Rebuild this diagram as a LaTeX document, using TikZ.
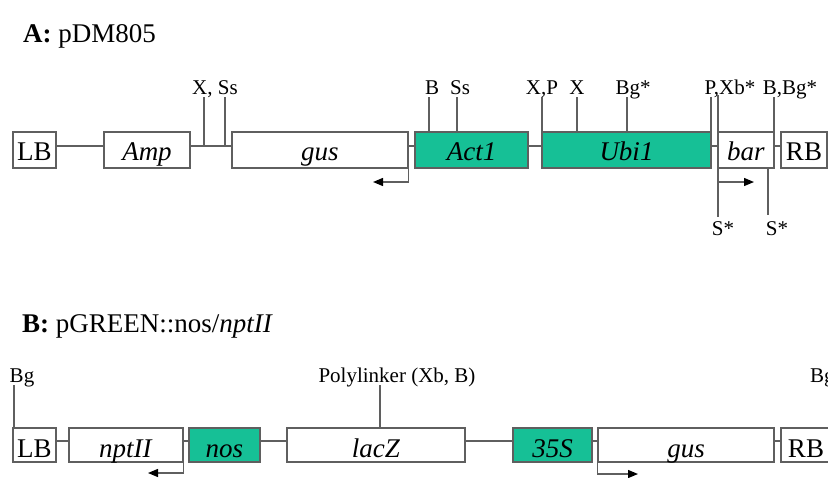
\documentclass[tikz,border=0pt]{standalone}
\usepackage{fontspec}
\setmainfont{Liberation Serif}
\usetikzlibrary{arrows.meta}
\definecolor{genegreen}{RGB}{22,192,150}
\definecolor{wire}{RGB}{95,95,95}
\newcommand\boxfont{\fontsize{27}{30}\selectfont}
\newcommand\sitefont{\fontsize{21}{24}\selectfont}
\newcommand\titlefont{\fontsize{27}{30}\selectfont}

\begin{document}
\begin{tikzpicture}[x=1pt,y=-1pt,
  part/.style={draw=wire, line width=1.3pt, inner sep=0pt, fill=white, font=\boxfont, text depth=0pt},
  rowa/.style={part, minimum height=36pt, text height=20pt},
  rowb/.style={part, minimum height=34pt, text height=25pt},
  genebox/.style={fill=genegreen},
  conn/.style={draw=wire, line width=1.3pt},
  site/.style={font=\sitefont, anchor=base, inner sep=0pt},
  dir/.style={conn, -{Triangle[length=10pt,width=8pt,color=black]}}
]
\useasboundingbox (0,0) rectangle (828,477);
\clip (0,0) rectangle (828,477);

% ---------- A: pDM805 ----------
\node[anchor=base west, inner sep=0pt, font=\titlefont] (tA) at (23,42) {\textbf{A:} pDM805};

\node[rowa, minimum width=43pt]  (aLB)  at (34.5,150)  {LB};
\node[rowa, minimum width=86pt]  (aAmp) at (147,150)   {\textit{Amp}};
\node[rowa, minimum width=176pt] (aGus) at (320,150)   {\textit{gus}};
\node[rowa, genebox, minimum width=113pt] (aAct) at (471.5,150) {\textit{Act1}};
\node[rowa, genebox, minimum width=169pt] (aUbi) at (626.5,150) {\textit{Ubi1}};
\node[rowa, minimum width=56pt]  (aBar) at (746,150)   {\textit{bar}};
\node[rowa, minimum width=46pt]  (aRB)  at (804,150)   {RB};

\foreach \p/\q in {aLB/aAmp, aAmp/aGus, aGus/aAct, aAct/aUbi, aUbi/aBar, aBar/aRB}
  \draw[conn] ([yshift=4pt]\p.east) -- ([yshift=4pt]\q.west);

% restriction sites
\node[site] (lXSs) at (215,94) {X, Ss};
\node[site] (lB)   at (432,94) {B};
\node[site] (lSs)  at (460,94) {Ss};
\node[site] (lXP)  at (542,94) {X,P};
\node[site] (lX)   at (577,94) {X};
\node[site] (lBg)  at (633,94) {Bg*};
\node[site] (lPXb) at (730,94) {P,Xb*};
\node[site] (lBBg) at (790,94) {B,Bg*};
\node[site] (lS1)  at (723,235) {S*};
\node[site] (lS2)  at (777,235) {S*};

\coordinate (midA) at (0,146);
\coordinate (cX)   at (204,97);
\coordinate (cSsA) at (225,97);
\coordinate (cB)   at (429,97);
\coordinate (cSsB) at (457,97);
\coordinate (cXP)  at (542,97);
\coordinate (cX2)  at (577,97);
\coordinate (cBg)  at (627,97);
\coordinate (cP)   at (711,97);
\coordinate (cXb)  at (718,95);
\coordinate (cXbE) at (718,217);
\coordinate (cBB)  at (774,97);
\coordinate (cS2)  at (768,215);

\draw[conn] (cX) -- (cX |- midA);
\draw[conn] (cSsA) -- (cSsA |- midA);
\draw[conn] (cB) -- (cB |- aAct.north);
\draw[conn] (cSsB) -- (cSsB |- aAct.north);
\draw[conn] (cXP) -- (cXP |- aUbi.north);
\draw[conn] (cX2) -- (cX2 |- aUbi.north);
\draw[conn] (cBg) -- (cBg |- aUbi.north);
\draw[conn] (cP) -- (cP |- aUbi.north);
\draw[conn] (cXb) -- (cXbE);
\draw[conn] (cBB) -- (cBB |- aBar.north);
\draw[conn] (cS2 |- aBar.south) -- (cS2);

% transcription directions
\coordinate (tipGusA) at (373,182);
\coordinate (tipBar)  at (754,182);
\draw[dir] (aGus.south east) |- (tipGusA);
\draw[dir] (tipBar -| cXb) -- (tipBar);

% ---------- B: pGREEN::nos/nptII ----------
\node[anchor=base west, inner sep=0pt, font=\titlefont] (tB) at (22,332) {\textbf{B:} pGREEN::nos/\textit{nptII}};

\node[rowb, minimum width=43pt]  (bLB)  at (34.5,445)  {LB};
\node[rowb, minimum width=114pt] (bNpt) at (126,445)   {\textit{nptII}};
\node[rowb, genebox, minimum width=71pt] (bNos) at (224.5,445) {\textit{nos}};
\node[rowb, minimum width=178pt] (bLac) at (376,445)   {\textit{lacZ}};
\node[rowb, genebox, minimum width=79pt] (b35S) at (552.5,445) {\textit{35S}};
\node[rowb, minimum width=176pt] (bGus) at (686,445)   {\textit{gus}};
\node[rowb, minimum width=50pt]  (bRB)  at (806,445)   {RB};

\foreach \p/\q in {bLB/bNpt, bNpt/bNos, bNos/bLac, bLac/b35S, b35S/bGus, bGus/bRB}
  \draw[conn] ([yshift=4pt]\p.east) -- ([yshift=4pt]\q.west);

\node[site] (lBgL) at (22,382) {Bg};
\node[site] (lPoly) at (397,382) {Polylinker (Xb, B)};
\node[site, anchor=base west] (lBgR) at (810,382) {Bg};

\coordinate (cBgL)  at (14,385);
\coordinate (cPoly) at (380,385);
\draw[conn] (cBgL) -- (cBgL |- bLB.north);
\draw[conn] (cPoly) -- (cPoly |- bLac.north);

\coordinate (tipNpt) at (148,473);
\coordinate (tipGusB) at (638,474);
\draw[dir] (bNpt.south east) |- (tipNpt);
\draw[dir] (bGus.south west) |- (tipGusB);
\end{tikzpicture}
\end{document}
